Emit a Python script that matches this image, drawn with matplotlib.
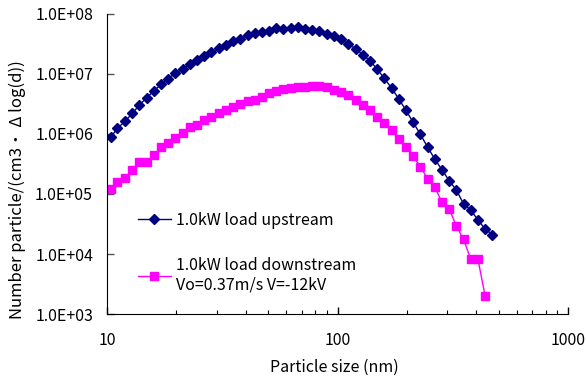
import matplotlib
matplotlib.use('Agg')
import matplotlib.pyplot as plt
from matplotlib.ticker import FixedLocator, LogLocator, NullFormatter, NullLocator

plt.rcParams['font.family'] = ['Noto Sans CJK JP', 'DejaVu Sans']

# particle size channels (nm), 32 per decade
size_nm = [10.4, 11.1, 12.0, 12.9, 13.8, 14.9, 16.0, 17.2, 18.4, 19.8,
           21.3, 22.9, 24.6, 26.4, 28.4, 30.5, 32.8, 35.2, 37.9, 40.7,
           43.7, 47.0, 50.5, 54.3, 58.3, 62.6, 67.3, 72.3, 77.7, 83.5,
           89.8, 96.5, 103.7, 111.4, 119.7, 128.6, 138.2, 148.5, 159.6, 171.5,
           184.3, 198.1, 212.8, 228.7, 245.8, 264.1, 283.8, 305.0, 327.7, 352.2,
           378.4, 406.7, 437.0, 469.6]

upstream = [9.0e5, 1.24e6, 1.65e6, 2.21e6, 3.04e6, 4.03e6, 5.27e6, 6.73e6, 8.36e6, 1.03e7,
            1.21e7, 1.45e7, 1.73e7, 2.00e7, 2.30e7, 2.68e7, 3.04e7, 3.55e7, 3.83e7, 4.42e7,
            4.76e7, 5.01e7, 5.27e7, 5.78e7, 5.69e7, 5.78e7, 6.07e7, 5.69e7, 5.41e7, 5.15e7,
            4.65e7, 4.30e7, 3.78e7, 3.16e7, 2.63e7, 2.10e7, 1.67e7, 1.21e7, 8.47e6, 5.85e6,
            3.87e6, 2.48e6, 1.57e6, 9.9e5, 6.07e5, 3.83e5, 2.54e5, 1.67e5, 1.17e5, 6.84e4,
            5.41e4, 3.69e4, 2.61e4, 2.10e4]

downstream = [1.21e5, 1.58e5, 1.87e5, 2.51e5, 3.37e5, 3.37e5, 4.47e5, 6.0e5, 7.16e5, 8.67e5,
              1.03e6, 1.29e6, 1.41e6, 1.71e6, 1.94e6, 2.26e6, 2.48e6, 2.79e6, 3.20e6, 3.51e6,
              3.69e6, 4.19e6, 4.82e6, 5.27e6, 5.56e6, 5.82e6, 6.0e6, 6.0e6, 6.31e6, 6.31e6,
              6.0e6, 5.41e6, 5.05e6, 4.42e6, 3.72e6, 3.01e6, 2.51e6, 1.92e6, 1.51e6, 1.15e6,
              8.17e5, 6.14e5, 4.30e5, 2.85e5, 1.80e5, 1.32e5, 7.28e4, 5.69e4, 2.93e4, 1.76e4,
              8.17e3, 8.17e3, 2.0e3]

y_ticks = [1e3, 1e4, 1e5, 1e6, 1e7, 1e8]
y_tick_labels = ['1.0E+03', '1.0E+04', '1.0E+05', '1.0E+06', '1.0E+07', '1.0E+08']
x_ticks = [10, 100, 1000]
x_tick_labels = ['10', '100', '1000']

fig = plt.figure(figsize=(5.86, 3.78), dpi=100)
ax = fig.add_axes([0.1826, 0.1693, 0.7867, 0.7937])

l1, = ax.plot(size_nm, upstream, color='#000080', marker='D', markersize=5,
              linewidth=1, label='1.0kW load upstream')
l2, = ax.plot(size_nm[:len(downstream)], downstream, color='#FF00FF', marker='s',
              markersize=5.5, linewidth=1,
              label='1.0kW load downstream\nVo=0.37m/s V=-12kV')

ax.set_xscale('log')
ax.set_yscale('log')
ax.set_xlim(10, 1000)
ax.set_ylim(1e3, 1e8)

ax.xaxis.set_major_locator(FixedLocator(x_ticks))
ax.set_xticklabels(x_tick_labels)
ax.xaxis.set_minor_locator(LogLocator(base=10, subs=range(2, 10)))
ax.xaxis.set_minor_formatter(NullFormatter())
ax.yaxis.set_major_locator(FixedLocator(y_ticks))
ax.set_yticklabels(y_tick_labels)
ax.yaxis.set_minor_locator(NullLocator())

ax.spines['top'].set_visible(False)
ax.spines['right'].set_visible(False)
ax.tick_params(axis='both', which='major', direction='in', length=5, width=1,
               labelsize=11.5, color='#555555')
ax.tick_params(axis='x', which='major', pad=13, color='black')
ax.tick_params(axis='y', which='major', pad=10)
ax.tick_params(axis='x', which='minor', direction='in', length=3, width=0.8)

fig.text(0.5700, 1 - 367 / 378, 'Particle size (nm)', ha='center', va='center', fontsize=11.5)
fig.text(17 / 586, 1 - 190 / 378, 'Number particle/(cm3・ Δ log(d))', ha='center',
         va='center', rotation=90, fontsize=12)

ax.legend(handles=[l1, l2], loc='upper left', bbox_to_anchor=(0.035, 0.388),
          frameon=False, fontsize=11.5, handlelength=2.1, labelspacing=1.75,
          handletextpad=0.33)

fig.savefig('out.png', dpi=100)
